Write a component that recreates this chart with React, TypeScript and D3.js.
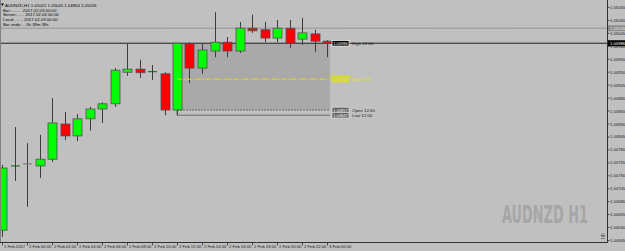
import React, { useLayoutEffect, useRef, useState } from "react";
import * as d3 from "d3";

// ---- data ----
const times = [
  "2017.02.01 22:00", "2017.02.01 23:00", "2017.02.02 00:00", "2017.02.02 01:00", "2017.02.02 02:00",
  "2017.02.02 03:00", "2017.02.02 04:00", "2017.02.02 05:00", "2017.02.02 06:00", "2017.02.02 07:00",
  "2017.02.02 08:00", "2017.02.02 09:00", "2017.02.02 10:00", "2017.02.02 11:00", "2017.02.02 12:00",
  "2017.02.02 13:00", "2017.02.02 14:00", "2017.02.02 15:00", "2017.02.02 16:00", "2017.02.02 17:00",
  "2017.02.02 18:00", "2017.02.02 19:00", "2017.02.02 20:00", "2017.02.02 21:00", "2017.02.02 22:00",
  "2017.02.02 23:00", "2017.02.03 00:00",
];
const opens = [1.04625, 1.04748, 1.04753, 1.04749, 1.04762, 1.0483, 1.04807, 1.0484, 1.04859, 1.04869, 1.0493, 1.04936, 1.04929, 1.04927, 1.04857, 1.04985, 1.04938, 1.04971, 1.04988, 1.04971, 1.05015, 1.05012, 1.04996, 1.05015, 1.04994, 1.05004, 1.0499];
const highs = [1.04751, 1.04824, 1.04793, 1.04809, 1.0488, 1.04853, 1.04849, 1.04863, 1.04872, 1.04938, 1.04985, 1.04954, 1.04944, 1.0493, 1.04986, 1.04988, 1.04985, 1.05046, 1.04998, 1.05027, 1.05041, 1.05027, 1.05031, 1.05031, 1.05035, 1.05012, 1.04992];
const lows = [1.04612, 1.0472, 1.0467, 1.04726, 1.04757, 1.04799, 1.04797, 1.04817, 1.04832, 1.04863, 1.04923, 1.04919, 1.04915, 1.04847, 1.04847, 1.04909, 1.04927, 1.04959, 1.04959, 1.04967, 1.05006, 1.04988, 1.04988, 1.04977, 1.04983, 1.04969, 1.04959];
const closes = [1.04745, 1.04749, 1.04753, 1.04762, 1.04832, 1.04807, 1.0484, 1.04859, 1.04869, 1.04934, 1.04936, 1.04929, 1.04931, 1.04857, 1.04986, 1.04938, 1.04973, 1.04988, 1.04971, 1.05015, 1.0501, 1.04996, 1.05015, 1.04986, 1.05006, 1.0499, 1.04986];

const xTickLabels = [
  "1 Feb 2017", "2 Feb 00:00", "2 Feb 02:00", "2 Feb 04:00", "2 Feb 06:00", "2 Feb 08:00", "2 Feb 10:00",
  "2 Feb 12:00", "2 Feb 14:00", "2 Feb 16:00", "2 Feb 18:00", "2 Feb 20:00", "2 Feb 22:00", "3 Feb 00:00",
];
const yTickValues = [
  1.04605, 1.0463, 1.04655, 1.0468, 1.04705, 1.0473, 1.04755, 1.0478, 1.04805, 1.0483,
  1.04855, 1.0488, 1.04905, 1.0493, 1.04955, 1.0498, 1.05005, 1.0503, 1.05055,
];
const bidPrice = 1.05015;
const refBarIndex = 14; // 12:00 bar
const headerLines = [
  "AUDNZD,H1  1.05022 1.05045 1.04964 1.05033",
  "Bar:......... 2017.02.03 00:00",
  "Server:...... 2017.02.03 00:00",
  "Local:....... 2017.02.03 00:00",
  "Bar ends:... 0h 39m 39s",
];

const W = 625;
const H = 251;
const AXIS_X = 607.5;
const AXIS_Y = 242.5;
const FONT = "'Liberation Sans', Arial, sans-serif";

function Watermark() {
  const ref = useRef<SVGTextElement>(null);
  const [sx, setSx] = useState(0.8);
  useLayoutEffect(() => {
    if (ref.current) {
      const w = ref.current.getComputedTextLength();
      if (w > 0) setSx(86 / w);
    }
  }, []);
  return (
    <g transform={`translate(502,223) scale(${sx},1)`}>
      <text ref={ref} x={0} y={0} fontSize={25} fontWeight="bold" fill="#a6a6a6"
        fontFamily="'Liberation Sans Narrow', 'DejaVu Sans Condensed', sans-serif">AUDNZD H1</text>
    </g>
  );
}

export default function App() {
  const x = d3.scaleLinear().domain([0, times.length - 1]).range([2, 327]);
  const y = d3.scaleLinear().domain([1.04605, 1.05055]).range([240.5, 7.5]);
  const bodyW = 9;

  const rO = opens[refBarIndex];
  const rH = highs[refBarIndex];
  const rL = lows[refBarIndex];
  const rM = (rH + rL) / 2;
  const rx0 = x(refBarIndex);
  const rx1 = 330;
  const fmt = (v: number) => v.toFixed(5);

  const boxLabel = (v: number, bg: string, stroke: string, fg: string, name: string, nameColor: string) => (
    <g key={name}>
      <rect x={332} y={y(v) - 2.8} width={17} height={5.6} fill={bg} stroke={stroke} strokeWidth={0.7} />
      <text x={340.5} y={y(v) + 1.5} fontSize={4} fill={fg} textAnchor="middle" fontFamily={FONT}>{fmt(v)}</text>
      <text x={352} y={y(v) + 1.5} fontSize={4.4} fill={nameColor} fontFamily={FONT}>{name}</text>
    </g>
  );

  return (
    <div style={{ position: "fixed", left: 0, top: 0, width: W, height: H }}>
      <svg width={W} height={H} style={{ display: "block" }}>
        <rect x={0} y={0} width={W} height={H} fill="#c0c0c0" />
        <Watermark />

        {/* reference bar rectangle */}
        <rect x={rx0} y={y(rH)} width={rx1 - rx0} height={y(rO) - y(rH)} fill="#a9a9a9" />

        {/* full width lines */}
        <line x1={0} x2={AXIS_X} y1={y(bidPrice)} y2={y(bidPrice)} stroke="#8a8a8a" strokeWidth={0.8} />
        <line x1={0} x2={AXIS_X} y1={y(rH)} y2={y(rH)} stroke="#202020" strokeWidth={1} />

        {/* candles */}
        {times.map((t, i) => {
          const cx = Math.round(x(i)) + 0.5;
          const o = opens[i], c = closes[i];
          const top = y(Math.max(o, c));
          const bot = y(Math.min(o, c));
          const up = c > o;
          const doji = Math.abs(bot - top) < 1.2;
          return (
            <g key={t}>
              <line x1={cx} x2={cx} y1={y(highs[i])} y2={y(lows[i])} stroke="#3c3c3c" strokeWidth={1} />
              {doji ? (
                <line x1={cx - bodyW / 2} x2={cx + bodyW / 2} y1={top} y2={top}
                  stroke={c > o ? "#006400" : c < o ? "#8b0000" : "#707070"} strokeWidth={1} />
              ) : (
                <rect x={cx - bodyW / 2} y={top} width={bodyW} height={bot - top}
                  fill={up ? "#00ff00" : "#ff0000"} stroke="#5a4a5a" strokeWidth={0.8} />
              )}
            </g>
          );
        })}

        {/* indicator lines */}
        <line x1={rx0} x2={rx1} y1={y(rO)} y2={y(rO)} stroke="#505050" strokeWidth={0.8} strokeDasharray="2,1" />
        <line x1={rx0} x2={rx1} y1={y(rL)} y2={y(rL)} stroke="#505050" strokeWidth={0.8} />
        <line x1={rx0} x2={rx0} y1={y(rO)} y2={y(rL)} stroke="#505050" strokeWidth={0.8} />
        <line x1={rx0} x2={rx1} y1={y(rM)} y2={y(rM)} stroke="#e6e600" strokeWidth={0.9} strokeDasharray="5,1.5,1.5,1.5" />
        {boxLabel(rH, "#000000", "#ffffff", "#ffffff", "High 12:00", "#202020")}
        {boxLabel(rM, "#cccc70", "#e6e600", "#f4f400", "Mid 12:00", "#e6e600")}
        {boxLabel(rO, "#606060", "#e0e0e0", "#ffffff", "Open 12:00", "#202020")}
        {boxLabel(rL, "#606060", "#e0e0e0", "#ffffff", "Low 12:00", "#202020")}

        {/* header */}
        <path d="M1,3.5 L4,3.5 L2.5,6 Z" fill="#000" />
        {headerLines.map((s, i) => (
          <text key={s} x={i === 0 ? 5 : 3} y={7 + i * 4.7} fontSize={4.3} fill="#000" fontFamily={FONT}>{s}</text>
        ))}

        {/* left border */}
        <line x1={0.5} x2={0.5} y1={0} y2={AXIS_Y} stroke="#808080" strokeWidth={1} />

        {/* right axis */}
        <line x1={AXIS_X} x2={AXIS_X} y1={0} y2={AXIS_Y} stroke="#303030" strokeWidth={1} />
        {yTickValues.map((v) => (
          <g key={v}>
            <line x1={AXIS_X} x2={AXIS_X + 2} y1={y(v)} y2={y(v)} stroke="#303030" strokeWidth={0.8} />
            <text x={610} y={y(v) + 1.5} fontSize={4.2} fill="#202020" fontFamily={FONT}>{fmt(v)}</text>
          </g>
        ))}
        <rect x={AXIS_X + 0.5} y={y(bidPrice) - 3} width={17} height={6} fill="#8c8c8c" />
        <text x={610} y={y(bidPrice) + 1.5} fontSize={4.2} fill="#e8e8e8" fontFamily={FONT}>{fmt(bidPrice)}</text>
        <rect x={AXIS_X + 0.5} y={y(rH) - 3} width={17} height={6} fill="#000" />
        <text x={610} y={y(rH) + 1.5} fontSize={4.2} fill="#fff" fontFamily={FONT}>{fmt(rH)}</text>

        {/* bottom axis */}
        <line x1={0} x2={AXIS_X} y1={AXIS_Y} y2={AXIS_Y} stroke="#303030" strokeWidth={1} />
        {xTickLabels.map((s, k) => {
          const tx = Math.round(x(k * 2)) + 0.5;
          return (
            <g key={s}>
              <line x1={tx} x2={tx} y1={AXIS_Y} y2={AXIS_Y + 3} stroke="#303030" strokeWidth={0.8} />
              <text x={tx + 1.5} y={AXIS_Y + 5.5} fontSize={4.2} fill="#202020" fontFamily={FONT}>{s}</text>
            </g>
          );
        })}
        <path d="M601,238.5 L605,238.5 M601,236.5 L605,236.5 M603,233.5 L601,235.5 L605,235.5 Z" stroke="#505050" strokeWidth={0.6} fill="none" />
      </svg>
    </div>
  );
}
